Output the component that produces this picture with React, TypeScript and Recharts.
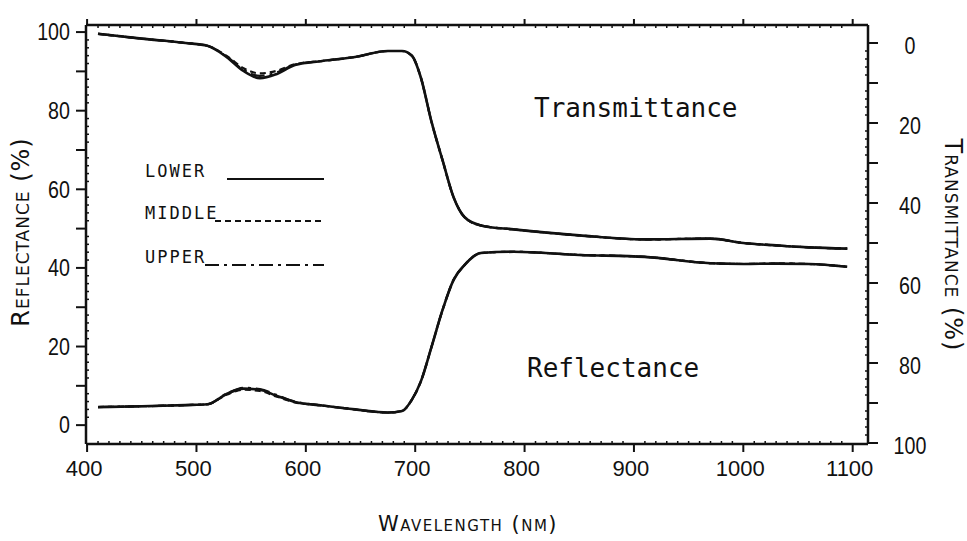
import React from 'react';
import { LineChart, Line, XAxis, YAxis, Legend, Customized } from 'recharts';

// Wavelength (nm)
const wavelengths = [410, 450, 490, 510, 528, 543, 558, 573, 590, 615, 645, 675, 688, 697, 705, 715, 725, 735, 745, 760, 790, 850, 910, 970, 1000, 1030, 1060, 1095];

// Reflectance (%) – left axis
const reflLower = [4.6, 4.8, 5.1, 5.3, 8.0, 9.3, 9.0, 7.5, 5.9, 5.0, 4.0, 3.2, 3.6, 6.5, 11.0, 20.0, 29.3, 36.9, 40.7, 43.8, 44.1, 43.3, 42.8, 41.2, 41.0, 41.1, 41.0, 40.3];
const reflMiddle = [4.6, 4.8, 5.1, 5.3, 7.8, 9.0, 8.7, 7.3, 5.8, 5.0, 4.0, 3.2, 3.6, 6.5, 11.0, 20.0, 29.3, 36.9, 40.7, 43.8, 44.1, 43.3, 42.8, 41.2, 41.0, 41.1, 41.0, 40.3];
const reflUpper = [4.6, 4.8, 5.1, 5.3, 8.1, 9.5, 9.2, 7.7, 6.0, 5.0, 4.0, 3.2, 3.6, 6.5, 11.0, 20.0, 29.3, 36.9, 40.7, 43.8, 44.1, 43.3, 42.8, 41.2, 41.0, 41.1, 41.0, 40.3];

// Transmittance (%) – right axis (inverted)
const transLower = [-2.3, -1.1, 0.0, 0.7, 3.6, 7.0, 8.8, 7.8, 5.5, 4.5, 3.5, 2.0, 2.0, 3.2, 8.5, 19.8, 29.3, 38.5, 43.5, 45.6, 46.6, 48.1, 49.1, 48.9, 50.0, 50.6, 51.1, 51.4];
const transMiddle = [-2.3, -1.1, 0.0, 0.7, 3.3, 6.3, 7.6, 7.0, 5.3, 4.5, 3.5, 2.0, 2.0, 3.2, 8.5, 19.8, 29.3, 38.5, 43.5, 45.6, 46.6, 48.1, 49.1, 48.9, 50.0, 50.6, 51.1, 51.4];
const transUpper = [-2.3, -1.1, 0.0, 0.7, 3.5, 6.7, 8.2, 7.4, 5.4, 4.5, 3.5, 2.0, 2.0, 3.2, 8.5, 19.8, 29.3, 38.5, 43.5, 45.6, 46.6, 48.1, 49.1, 48.9, 50.0, 50.6, 51.1, 51.4];

// Tick labels
const xTickLabels = [400, 500, 600, 700, 800, 900, 1000, 1100];
const leftTickLabels = [0, 20, 40, 60, 80, 100];
const rightTickLabels = [0, 20, 40, 60, 80, 100];

const seriesNames = ['LOWER', 'MIDDLE', 'UPPER'];
const seriesDash = ['0', '6 4', '14 5 3 5'];

const data = wavelengths.map((w, i) => ({
  wl: w,
  rLower: reflLower[i],
  rMiddle: reflMiddle[i],
  rUpper: reflUpper[i],
  tLower: transLower[i],
  tMiddle: transMiddle[i],
  tUpper: transUpper[i],
}));

const range = (a: number, b: number, s: number) => {
  const out: number[] = [];
  for (let v = a; v <= b + 1e-9; v += s) out.push(Math.round(v * 100) / 100);
  return out;
};
const xTicks = range(400, 1100, 10);
const yTicks = range(0, 100, 2);

const INK = '#111';
const numFont = "'Liberation Sans', Arial, sans-serif";

const BottomTick = (props: any) => {
  const { x, y, payload } = props;
  const v = payload.value;
  const major = xTickLabels.includes(v);
  return (
    <g>
      {major ? (
        <line x1={x} y1={y} x2={x} y2={y + 8} stroke={INK} strokeWidth={2} />
      ) : (
        <line x1={x} y1={y} x2={x} y2={y - 3} stroke={INK} strokeWidth={1.5} />
      )}
      {major && (
        <text x={x - 3} y={y + 24} textAnchor="middle" dominantBaseline="central" fontFamily={numFont} fontSize={22} fill={INK}>
          {v}
        </text>
      )}
    </g>
  );
};

const TopTick = (props: any) => {
  const { x, y, payload } = props;
  const v = payload.value;
  const major = xTickLabels.includes(v);
  return major ? (
    <line x1={x} y1={y} x2={x} y2={y - 6} stroke={INK} strokeWidth={2} />
  ) : (
    <line x1={x} y1={y} x2={x} y2={y + 3} stroke={INK} strokeWidth={1.5} />
  );
};

const LeftTick = (props: any) => {
  const { x, y, payload } = props;
  const v = payload.value;
  const major = v % 10 === 0;
  const labeled = leftTickLabels.includes(v);
  return (
    <g>
      {major ? (
        <line x1={x} y1={y} x2={x - 10} y2={y} stroke={INK} strokeWidth={2} />
      ) : (
        <line x1={x} y1={y} x2={x + 3} y2={y} stroke={INK} strokeWidth={1.5} />
      )}
      {labeled && (
        <text transform={`translate(${x - 16},${y}) scale(0.82,1)`} textAnchor="end" dominantBaseline="central" fontFamily={numFont} fontSize={24} fill={INK}>
          {v}
        </text>
      )}
    </g>
  );
};

const RightTick = (props: any) => {
  const { x, y, payload } = props;
  const v = payload.value;
  const major = v % 10 === 0;
  const labeled = rightTickLabels.includes(v);
  return (
    <g>
      {major ? (
        <line x1={x} y1={y} x2={x + 10} y2={y} stroke={INK} strokeWidth={2} />
      ) : (
        <line x1={x} y1={y} x2={x - 3} y2={y} stroke={INK} strokeWidth={1.5} />
      )}
      {labeled && (
        <text transform={`translate(${x + 42},${y + 3}) scale(0.82,1)`} textAnchor="middle" dominantBaseline="central" fontFamily={numFont} fontSize={24} fill={INK}>
          {v}
        </text>
      )}
    </g>
  );
};

const LegendContent = () => (
  <svg width={967} height={541} style={{ position: 'absolute', left: 0, top: 0, overflow: 'visible', pointerEvents: 'none' }}>
    {seriesNames.map((name, i) => {
      const baseY = [177, 219, 263][i];
      const lineStart = [227, 215, 205][i];
      return (
        <g key={name}>
          <text x={145} y={baseY} fontFamily="'DejaVu Sans Mono', monospace" fontSize={17} letterSpacing={2} fill={INK}>
            {name}
          </text>
          <line x1={lineStart} y1={baseY + 2} x2={324} y2={baseY + 2} stroke={INK} strokeWidth={2} strokeDasharray={seriesDash[i]} />
        </g>
      );
    })}
  </svg>
);

const Annotations = () => (
  <g>
    <text x={534} y={108} dominantBaseline="central" fontFamily="'DejaVu Sans Mono', monospace" fontSize={26} fill={INK}>
      Transmittance
    </text>
    <text x={527} y={368} dominantBaseline="central" fontFamily="'DejaVu Sans Mono', monospace" fontSize={26} fill={INK}>
      Reflectance
    </text>
    <text transform="translate(21,232) rotate(-90)" textAnchor="middle" dominantBaseline="central" fontFamily="'DejaVu Sans', sans-serif" fontSize={24} letterSpacing={1} fill={INK} style={{ fontVariant: 'small-caps' }}>
      Reflectance (%)
    </text>
    <text transform="translate(953,245) rotate(90)" textAnchor="middle" dominantBaseline="central" fontFamily="'DejaVu Sans', sans-serif" fontSize={24} letterSpacing={1} fill={INK} style={{ fontVariant: 'small-caps' }}>
      Transmittance (%)
    </text>
    <text x={468} y={524} textAnchor="middle" dominantBaseline="central" fontFamily="'DejaVu Sans', sans-serif" fontSize={21} letterSpacing={1.5} fill={INK} style={{ fontVariant: 'small-caps' }}>
      Wavelength (nm)
    </text>
  </g>
);

export default function App() {
  return (
    <div style={{ position: 'absolute', left: 0, top: 0, width: 967, height: 541, background: '#fff' }}>
      <LineChart width={967} height={541} data={data} margin={{ top: 0, right: 0, bottom: 0, left: 0 }}>
        <XAxis
          xAxisId="bottom"
          dataKey="wl"
          type="number"
          domain={[399, 1114]}
          allowDataOverflow
          ticks={xTicks}
          interval={0}
          tick={<BottomTick />}
          tickLine={false}
          tickSize={0}
          tickMargin={0}
          height={97}
          axisLine={{ stroke: INK, strokeWidth: 2.5 }}
        />
        <XAxis
          xAxisId="top"
          orientation="top"
          dataKey="wl"
          type="number"
          domain={[399, 1114]}
          allowDataOverflow
          ticks={xTicks}
          interval={0}
          tick={<TopTick />}
          tickLine={false}
          tickSize={0}
          tickMargin={0}
          height={25}
          axisLine={{ stroke: INK, strokeWidth: 2.5 }}
        />
        <YAxis
          yAxisId="left"
          type="number"
          domain={[-4.8, 101.8]}
          allowDataOverflow
          ticks={yTicks}
          interval={0}
          tick={<LeftTick />}
          tickLine={false}
          tickSize={0}
          tickMargin={0}
          width={86}
          axisLine={{ stroke: INK, strokeWidth: 2.5 }}
        />
        <YAxis
          yAxisId="right"
          orientation="right"
          type="number"
          reversed
          domain={[-4.5, 100.25]}
          allowDataOverflow
          ticks={yTicks}
          interval={0}
          tick={<RightTick />}
          tickLine={false}
          tickSize={0}
          tickMargin={0}
          width={99}
          axisLine={{ stroke: INK, strokeWidth: 2.5 }}
        />
        <Legend verticalAlign="middle" align="center" layout="horizontal" content={<LegendContent />} wrapperStyle={{ position: 'absolute', left: 0, top: 0, width: 0, height: 0 }} />

        <Line xAxisId="bottom" yAxisId="left" dataKey="rUpper" name="UPPER" type="monotone" stroke={INK} strokeWidth={2.2} strokeDasharray={seriesDash[2]} dot={false} isAnimationActive={false} />
        <Line xAxisId="bottom" yAxisId="left" dataKey="rMiddle" name="MIDDLE" type="monotone" stroke={INK} strokeWidth={2.2} strokeDasharray={seriesDash[1]} dot={false} isAnimationActive={false} />
        <Line xAxisId="bottom" yAxisId="left" dataKey="rLower" name="LOWER" type="monotone" stroke={INK} strokeWidth={2.6} dot={false} isAnimationActive={false} />

        <Line xAxisId="bottom" yAxisId="right" dataKey="tUpper" name="UPPER (T)" legendType="none" type="monotone" stroke={INK} strokeWidth={2.2} strokeDasharray={seriesDash[2]} dot={false} isAnimationActive={false} />
        <Line xAxisId="bottom" yAxisId="right" dataKey="tMiddle" name="MIDDLE (T)" legendType="none" type="monotone" stroke={INK} strokeWidth={2.2} strokeDasharray={seriesDash[1]} dot={false} isAnimationActive={false} />
        <Line xAxisId="bottom" yAxisId="right" dataKey="tLower" name="LOWER (T)" legendType="none" type="monotone" stroke={INK} strokeWidth={2.6} dot={false} isAnimationActive={false} />

        <Customized component={<Annotations />} />
      </LineChart>
    </div>
  );
}
